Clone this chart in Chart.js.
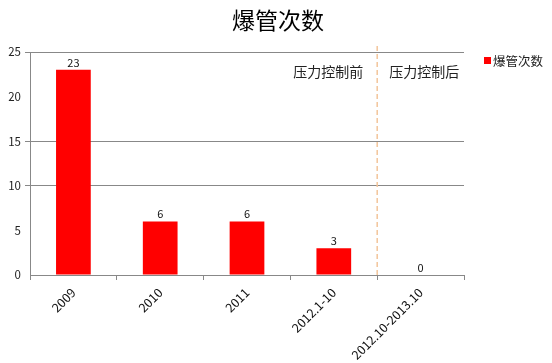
<!DOCTYPE html>
<html>
<head>
<meta charset="utf-8">
<script src="https://cdn.jsdelivr.net/npm/chart.js@4.4.1/dist/chart.umd.min.js"></script>
<style>
  html, body { margin: 0; padding: 0; background: #ffffff; }
  #wrap { width: 552px; height: 363px; position: relative; }
</style>
</head>
<body>
<div id="wrap"><canvas id="c" width="552" height="363"></canvas></div>
<script>
// Burst counts per period
const categories = ['2009', '2010', '2011', '2012.1-10', '2012.10-2013.10'];
const burstCounts = [23, 6, 6, 3, 0];
const seriesName = '爆管次数';
const chartTitle = '爆管次数';
const beforeLabel = '压力控制前';
const afterLabel = '压力控制后';
const yTicks = [0, 5, 10, 15, 20, 25];
const gridValues = [10, 15, 25];

const FONT = '"Noto Sans CJK SC", "DejaVu Sans", sans-serif';

const decor = {
  id: 'decor',
  afterDatasetsDraw(chart) {
    const { ctx, chartArea, scales } = chart;
    const x = scales.x;
    ctx.save();

    // title
    ctx.fillStyle = '#000';
    ctx.font = '23px ' + FONT;
    ctx.textAlign = 'center';
    ctx.textBaseline = 'middle';
    ctx.fillText(chartTitle, 278, 20);

    // value labels above bars
    const meta = chart.getDatasetMeta(0);
    ctx.font = '11px ' + FONT;
    ctx.fillStyle = '#111';
    ctx.textBaseline = 'bottom';
    meta.data.forEach((bar, i) => {
      ctx.fillText(String(burstCounts[i]), bar.x, bar.y - 2);
    });

    // divider between before/after pressure control
    const divX = (x.getPixelForTick(3) + x.getPixelForTick(4)) / 2;
    ctx.strokeStyle = '#f3c59b';
    ctx.lineWidth = 1.5;
    ctx.setLineDash([5, 3]);
    ctx.beginPath();
    ctx.moveTo(divX, chartArea.top - 6);
    ctx.lineTo(divX, chartArea.bottom);
    ctx.stroke();
    ctx.setLineDash([]);

    ctx.font = '14px ' + FONT;
    ctx.fillStyle = '#222';
    ctx.textBaseline = 'middle';
    ctx.textAlign = 'right';
    ctx.fillText(beforeLabel, divX - 14, 72);
    ctx.textAlign = 'left';
    ctx.fillText(afterLabel, divX + 12, 72);

    // legend
    ctx.fillStyle = '#ff0000';
    ctx.fillRect(484, 57, 7, 7);
    ctx.fillStyle = '#222';
    ctx.font = '12.5px ' + FONT;
    ctx.textAlign = 'left';
    ctx.fillText(seriesName, 493, 61);

    ctx.restore();
  }
};

new Chart(document.getElementById('c'), {
  type: 'bar',
  data: {
    labels: categories,
    datasets: [{
      label: seriesName,
      data: burstCounts,
      backgroundColor: '#ff0000',
      borderWidth: 0,
      categoryPercentage: 1.0,
      barPercentage: 0.4
    }]
  },
  options: {
    responsive: false,
    animation: false,
    devicePixelRatio: 1,
    layout: { padding: { top: 52, right: 88, left: 0, bottom: 0 } },
    plugins: {
      legend: { display: false },
      title: { display: false },
      tooltip: { enabled: false }
    },
    scales: {
      x: {
        offset: true,
        grid: {
          offset: true,
          drawOnChartArea: false,
          drawTicks: true,
          tickLength: 5,
          color: '#888'
        },
        border: { color: '#888', width: 1 },
        ticks: {
          maxRotation: 45,
          minRotation: 45,
          autoSkip: false,
          color: '#111',
          padding: 5,
          font: { family: FONT, size: 12.5 }
        },
        afterFit(scale) { scale.height = 88; }
      },
      y: {
        min: 0,
        max: 25,
        afterBuildTicks(scale) { scale.ticks = yTicks.map(v => ({ value: v })); },
        grid: {
          color: ctx => (gridValues.includes(ctx.tick && ctx.tick.value) ? '#888' : 'rgba(0,0,0,0)'),
          lineWidth: 1,
          drawTicks: true,
          tickLength: 5
        },
        border: { color: '#888', width: 1 },
        ticks: {
          color: '#222',
          padding: 4,
          font: { family: FONT, size: 11.5 }
        },
        afterFit(scale) { scale.width = 30; }
      }
    }
  },
  plugins: [decor]
});
</script>
</body>
</html>
